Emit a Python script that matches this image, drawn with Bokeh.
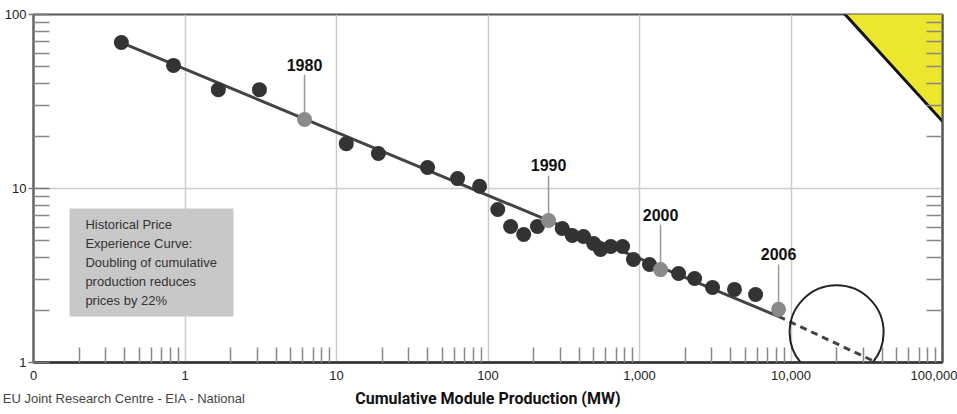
from bokeh.plotting import figure
from bokeh.models import LogAxis, FixedTicker, Label, BoxAnnotation
from bokeh.core.properties import value
from bokeh.embed import file_html
from bokeh.resources import INLINE

# ---------------- data ----------------
cum_mw = [0.38, 0.84, 1.66, 3.1, 11.6, 18.9, 39.9, 63, 88, 116, 141, 172, 212,
          309, 360, 427, 498, 553, 646, 773, 912, 1164, 1811, 2311, 3034, 4236, 5838]
price = [69, 51, 37, 37, 18.1, 15.9, 13.2, 11.4, 10.3, 7.57, 6.05, 5.44, 6.05,
         5.89, 5.37, 5.3, 4.83, 4.46, 4.64, 4.64, 3.91, 3.66, 3.25, 3.04, 2.7, 2.63, 2.46]

year_labels = ["1980", "1990", "2000", "2006"]
year_mw = [6.15, 251, 1377, 8279]
year_price = [24.9, 6.55, 3.42, 2.02]

trend_mw = [0.38, 8279]
trend_price = [69, 1.84]
proj_mw = [8279, 35000]
proj_price = [1.84, 1.02]
focus_mw = [20000]
focus_price = [1.49]

x_ticks = [0.1, 1, 10, 100, 1000, 10000, 100000]
x_tick_labels = ["0", "1", "10", "100", "1,000", "10,000", "100,000"]
y_ticks = [1, 10, 100]
y_tick_labels = ["1", "10", "100"]

note_lines = ["Historical Price", "Experience Curve:", "Doubling of cumulative",
              "production reduces", "prices by 22%"]
source_text = "EU Joint Research Centre - EIA - National"
x_title = "Cumulative Module Production (MW)"

# placement helpers (annotation positions, in data units)
note_box = dict(left=0.173, right=2.09, bottom=1.84, top=7.67)
note_anchor = (0.22, 6.9)
source_anchor_x = 0.37
band_xs = [15460, 77270, 153000, 153000]
band_ys = [144.9, 144.9, 82.7, 16.2]

# ---------------- figure ----------------
x_minor = [m * 10.0 ** e for e in range(-1, 5) for m in range(2, 10)]
y_minor = [m * 10.0 ** e for e in range(0, 2) for m in range(2, 10)]

p = figure(width=957, height=414, x_axis_type="log", y_axis_type="log",
           x_range=(x_ticks[0], x_ticks[-1]), y_range=(y_ticks[0], y_ticks[-1]),
           output_backend="svg", toolbar_location=None,
           min_border_left=33, min_border_right=15, min_border_top=14, min_border_bottom=52)
p.outline_line_color = "#555555"
p.outline_line_width = 2
p.background_fill_color = "white"
p.border_fill_color = "white"

# x axis (tick labels)
xa = p.xaxis[0]
xa.ticker = FixedTicker(ticks=x_ticks, minor_ticks=x_minor)
xa.major_label_overrides = dict(zip(x_ticks, x_tick_labels))
xa.axis_line_color = "#333333"
xa.axis_line_width = 2.5
xa.major_tick_in = 0
xa.major_tick_out = 0
xa.minor_tick_in = 15
xa.minor_tick_out = 0
xa.minor_tick_line_color = "#888888"
xa.minor_tick_line_width = 1.5
xa.major_label_standoff = 8
xa.major_label_text_font = "Liberation Sans"
xa.major_label_text_font_size = "13px"
xa.major_label_text_color = "#222222"

# second bottom axis: source line (as a label) and the axis title on the same row
ta = LogAxis(ticker=FixedTicker(ticks=[source_anchor_x], minor_ticks=[]))
ta.major_label_overrides = {source_anchor_x: source_text}
ta.axis_line_color = None
ta.major_tick_line_color = None
ta.minor_tick_line_color = None
ta.major_tick_in = 0
ta.major_tick_out = 0
ta.minor_tick_in = 0
ta.minor_tick_out = 0
ta.major_label_standoff = 8
ta.major_label_text_font = "Liberation Sans"
ta.major_label_text_font_size = "13px"
ta.major_label_text_color = "#444444"
ta.axis_label = x_title
ta.axis_label_standoff = -20
ta.axis_label_text_font = "Roboto"
ta.axis_label_text_font_style = "bold"
ta.axis_label_text_font_size = "16px"
ta.axis_label_text_color = "#111111"
p.add_layout(ta, "below")

# left y axis
ya = p.yaxis[0]
ya.ticker = FixedTicker(ticks=y_ticks, minor_ticks=y_minor)
ya.major_label_overrides = dict(zip(y_ticks, y_tick_labels))
ya.axis_line_color = "#666666"
ya.axis_line_width = 2
ya.major_tick_in = 16
ya.major_tick_out = 5
ya.major_tick_line_color = "#777777"
ya.major_tick_line_width = 1.5
ya.minor_tick_in = 16
ya.minor_tick_out = 0
ya.minor_tick_line_color = "#888888"
ya.minor_tick_line_width = 1.5
ya.major_label_standoff = 2
ya.major_label_text_font = "Liberation Sans"
ya.major_label_text_font_size = "13px"
ya.major_label_text_color = "#222222"

# right y axis (minor ticks only)
ry = LogAxis(ticker=FixedTicker(ticks=[], minor_ticks=y_minor))
ry.axis_line_color = "#555555"
ry.axis_line_width = 2
ry.major_tick_in = 0
ry.major_tick_out = 0
ry.minor_tick_in = 16
ry.minor_tick_out = 0
ry.minor_tick_line_color = "#888888"
ry.minor_tick_line_width = 1.5
ry.major_label_standoff = 0
p.add_layout(ry, "right")

# grid
p.xgrid.ticker = FixedTicker(ticks=x_ticks)
p.ygrid.ticker = FixedTicker(ticks=y_ticks)
p.xgrid.grid_line_color = "#cccccc"
p.ygrid.grid_line_color = "#cccccc"
p.xgrid.grid_line_width = 1.5
p.ygrid.grid_line_width = 1.5

# note box
p.add_layout(BoxAnnotation(**note_box, fill_color="#c8c8c8", fill_alpha=1, line_color=None))
p.add_layout(Label(x=note_anchor[0], y=note_anchor[1], text="\n".join(note_lines),
                   text_align="left", text_baseline="top", text_line_height=1.27,
                   text_font="Liberation Sans", text_font_size="13px",
                   text_color="#333333"))

# curves
p.line(trend_mw, trend_price, line_color="#444444", line_width=3)
p.line(proj_mw, proj_price, line_color="#444444", line_width=3, line_dash="7 5")

# leader lines and year labels
p.segment(x0=year_mw, y0=year_price, x1=year_mw, y1=[v * 1.81 for v in year_price],
          line_color="#999999", line_width=1.5)
p.text(x=year_mw, y=year_price, text=year_labels, y_offset=-55, text_align="center",
       text_baseline="middle", text_font=value("Liberation Sans"), text_font_style="bold",
       text_font_size="16px", text_color="#111111")

# points
p.scatter(cum_mw, price, size=15, fill_color="#333333", line_color=None)
p.scatter(year_mw, year_price, size=15, fill_color="#8a8a8a", line_color=None)

# focus circle
p.scatter(focus_mw, focus_price, size=94, fill_color=None, line_color="#222222", line_width=2)

# decorative yellow band in the top-right corner
p.patch(band_xs, band_ys, fill_color="#ebe72c", fill_alpha=1,
        line_color="#111111", line_width=3)

open("out.html", "w").write(file_html(p, INLINE))
